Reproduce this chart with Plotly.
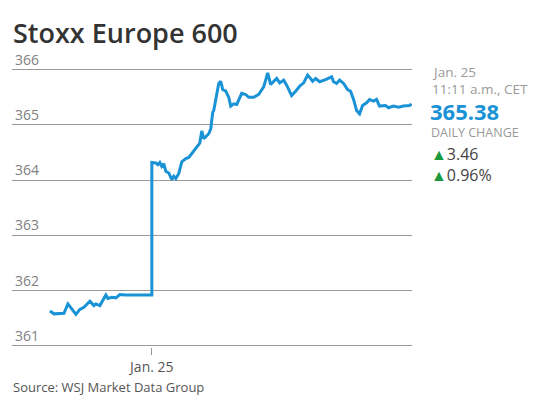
import plotly.graph_objects as go

# minutes relative to Jan. 25 open
prev_minutes = [-51, -49, -44, -42, -38, -36, -34, -31, -29, -28, -26, -23, -22, -20, -18, -16, -13, 0]
prev_values = [361.63, 361.58, 361.59, 361.76, 361.57, 361.66, 361.70, 361.81, 361.73, 361.76,
               361.73, 361.92, 361.86, 361.88, 361.87, 361.93, 361.92, 361.92]

day_minutes = [0, 2, 3, 4, 5, 6, 7, 8.5, 10, 11, 12, 13.5, 15, 17, 18.5, 20, 22, 24, 25, 26,
               28.5, 29.5, 30.5, 31, 33.5, 34.5, 35.5, 37, 38.5, 39.5, 41, 42.5, 45, 47, 48.5,
               51, 53.5, 56, 57, 58, 59.5, 61, 62.5, 64, 66, 67.5, 70, 72, 74, 76, 78, 79, 80.5,
               82, 84, 87, 88.5, 90, 91, 92.5, 94, 96, 98, 99.5, 101, 102.5, 104, 105.5, 107.5,
               109, 111, 112.5, 114, 117, 118.5, 121, 123.5, 126, 129, 130]
day_values = [364.32, 364.31, 364.28, 364.32, 364.25, 364.30, 364.16, 364.13, 364.01, 364.07,
              364.03, 364.12, 364.33, 364.39, 364.41, 364.48, 364.57, 364.67, 364.89, 364.75,
              364.84, 364.93, 365.23, 365.26, 365.75, 365.79, 365.64, 365.61, 365.50, 365.34,
              365.38, 365.37, 365.57, 365.55, 365.50, 365.50, 365.55, 365.69, 365.81, 365.94,
              365.73, 365.78, 365.84, 365.76, 365.81, 365.72, 365.53, 365.61, 365.70, 365.76,
              365.90, 365.86, 365.79, 365.84, 365.78, 365.82, 365.84, 365.87, 365.78, 365.75,
              365.81, 365.75, 365.64, 365.61, 365.46, 365.26, 365.20, 365.35, 365.40, 365.46,
              365.43, 365.46, 365.34, 365.35, 365.31, 365.34, 365.32, 365.34, 365.35, 365.38]

y_ticks = [361, 362, 363, 364, 365, 366]
x_tick_vals = [0]
x_tick_text = ["Jan. 25"]

title = "Stoxx Europe 600"
last_date = "Jan. 25"
last_time = "11:11 a.m., CET"
last_value = "365.38"
change_pts = "3.46"
change_pct = "0.96%"
source = "Source: WSJ Market Data Group"

x = prev_minutes + day_minutes
y = prev_values + day_values

W, H = 538, 399
ML, MR, MT, MB = 12, 126, 42, 52
PW, PH = W - ML - MR, H - MT - MB

fig = go.Figure()
fig.add_trace(go.Scatter(x=x, y=y, mode="lines", cliponaxis=False,
                         line=dict(color="#1a93d6", width=3), hoverinfo="skip"))

font_family = "Open Sans, Lato, sans-serif"

fig.update_layout(
    width=W, height=H,
    margin=dict(l=ML, r=MR, t=MT, b=MB, autoexpand=False),
    paper_bgcolor="white", plot_bgcolor="white",
    showlegend=False,
    xaxis=dict(range=[-70, 130.25], tickvals=x_tick_vals, ticktext=x_tick_text,
               ticks="outside", ticklen=7, tickcolor="#999999", tickwidth=1,
               showgrid=False, zeroline=False, showline=False, automargin=False,
               tickfont=dict(family=font_family, size=14, color="#555555")),
    yaxis=dict(range=[360.98, 366.5], tickvals=y_ticks, ticktext=[str(v) for v in y_ticks],
               ticklabelposition="inside top", showgrid=True, gridcolor="#9a9a9a",
               gridwidth=1, zeroline=False, showline=False, ticks="", automargin=False,
               tickfont=dict(family=font_family, size=14, color="#808080")),
)

annotations = [
    dict(text=title, x=11, y=12, xanchor="left", yanchor="top",
         font=dict(family=font_family, size=27, color="#333333", weight=600)),
    dict(text=last_date, x=430, y=61, xanchor="left", yanchor="top",
         font=dict(family=font_family, size=13.5, color="#999999")),
    dict(text=last_time, x=430, y=78, xanchor="left", yanchor="top",
         font=dict(family=font_family, size=13.5, color="#999999")),
    dict(text=f"<b>{last_value}</b>", x=428, y=94, xanchor="left", yanchor="top",
         font=dict(family=font_family, size=22, color="#1a93d6")),
    dict(text="DAILY CHANGE", x=429, y=122, xanchor="left", yanchor="top",
         font=dict(family=font_family, size=12.5, color="#999999")),
    dict(text=f"<span style='color:#1a9a3c'>▲</span>{change_pts}", x=429, y=141,
         xanchor="left", yanchor="top",
         font=dict(family=font_family, size=16, color="#444444")),
    dict(text=f"<span style='color:#1a9a3c'>▲</span>{change_pct}", x=429, y=162,
         xanchor="left", yanchor="top",
         font=dict(family=font_family, size=16, color="#444444")),
    dict(text=source, x=11, y=376, xanchor="left", yanchor="top",
         font=dict(family=font_family, size=13, color="#555555")),
]
for a in annotations:
    a.update(xref="paper", yref="paper", showarrow=False)
    a["x"] = (a["x"] - ML) / PW
    a["y"] = 1 - (a["y"] - MT) / PH
fig.update_layout(annotations=annotations)

fig.write_html("out.html", config={"displayModeBar": False},
               post_script="document.body.style.margin='0';document.body.style.padding='0';")
